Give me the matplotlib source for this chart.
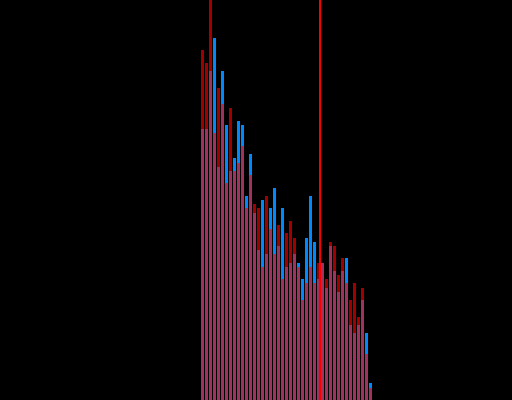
import numpy as np
import matplotlib
matplotlib.use("Agg")
import matplotlib.pyplot as plt

bin_index = list(range(43))
red_counts = [84, 81, 100, 64, 75, 71, 52, 70, 55, 57, 61, 46, 54, 47, 46, 32, 49, 41, 35, 42,
              29, 40, 43, 39, 32, 24, 28, 32, 28, 33, 33, 29, 38, 37, 30, 34, 28, 24, 28, 20,
              27, 11, 3]
blue_counts = [65, 65, 79, 87, 56, 79, 66, 55, 58, 67, 66, 49, 59, 45, 36, 48, 35, 46, 51, 37,
               46, 32, 33, 35, 33, 29, 39, 49, 38, 29, 33, 27, 37, 31, 26, 31, 34, 18, 16, 18,
               24, 16, 4]
marker_x = 29.8

fig = plt.figure(figsize=(5.12, 4.0), dpi=100, facecolor="black")
ax = fig.add_axes([0, 0, 1, 1])
ax.set_facecolor("black")

ax.bar(bin_index, blue_counts, width=0.75, align="edge", color="#0088ff", linewidth=0)
ax.bar(bin_index, red_counts, width=0.75, align="edge", color="#ff0000", alpha=0.63, linewidth=0)
ax.axvline(marker_x, color="#ff0000", linewidth=1.4)

ax.set_xlim(-50.25, 77.75)
ax.set_ylim(0, 96)
ax.axis("off")

fig.savefig("out.png", dpi=100, facecolor="black")
